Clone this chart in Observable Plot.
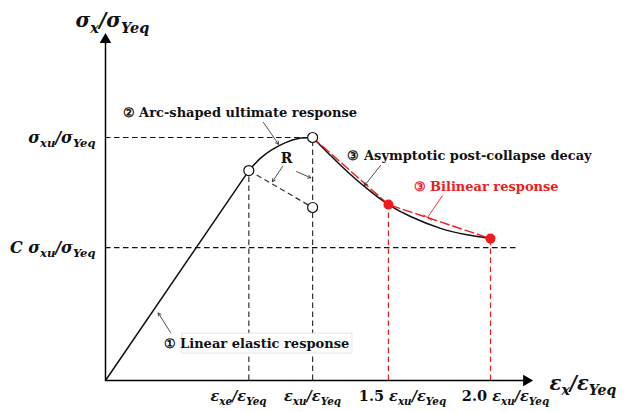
<!DOCTYPE html>
<html><head><meta charset="utf-8">
<script src="https://cdn.jsdelivr.net/npm/d3@7"></script>
<script src="https://cdn.jsdelivr.net/npm/@observablehq/plot@0.6"></script>
<style>body{margin:0;background:#fff}</style>
</head><body><div id="chart"></div>
<script>
// ---- schematic values (normalized strain εx/εYeq on x, stress σx/σYeq on y) ----
const strainTicks = [1.0, 1.445, 1.974, 2.686];          // εxe, εxu, 1.5εxu, 2.0εxu
const xTickLabels = ["ε_{xe}/ε_{Yeq}", "ε_{xu}/ε_{Yeq}", "1.5 ε_{xu}/ε_{Yeq}", "2.0 ε_{xu}/ε_{Yeq}"];
const xTickLabelX = [0.928, 1.444, 2.072, 2.791];
const stressLevels = [1.0, 0.547];                       // σxu, C·σxu
const yTickLabels = ["σ_{xu}/σ_{Yeq}", "C σ_{xu}/σ_{Yeq}"];

const elasticCurve = [{x: 0, y: 0}, {x: 1.0, y: 0.864}];
const arcCurve = [
  {x: 1.0, y: 0.864}, {x: 1.08, y: 0.914}, {x: 1.165, y: 0.951},
  {x: 1.256, y: 0.979}, {x: 1.347, y: 0.996}, {x: 1.445, y: 1.0}
];
const decayCurve = [
  {x: 1.445, y: 1.0}, {x: 1.57, y: 0.926}, {x: 1.709, y: 0.848}, {x: 1.849, y: 0.778},
  {x: 1.974, y: 0.724}, {x: 2.128, y: 0.675}, {x: 2.337, y: 0.626}, {x: 2.512, y: 0.601},
  {x: 2.686, y: 0.584}
];
const bilinearCurve = [{x: 1.445, y: 1.0}, {x: 1.974, y: 0.724}, {x: 2.686, y: 0.584}];
const arcCenter = {x: 1.445, y: 0.712};
const openPoints = [{x: 1.0, y: 0.864}, {x: 1.445, y: 1.0}, arcCenter];
const redPoints = [{x: 1.974, y: 0.724}, {x: 2.686, y: 0.584}];

// annotations (data units)
const blackNotes = [
  {x: 0.119, y: 1.103, t: "② Arc-shaped ultimate response"},
  {x: 1.688, y: 0.926, t: "③ Asymptotic post-collapse decay"},
  {x: 0.405, y: 0.152, t: "① Linear elastic response"}
];
const redNotes = [{x: 2.149, y: 0.798, t: "③ Bilinear response"}];
const leaders = [
  {x1: 1.102, y1: 1.062, x2: 1.207, y2: 0.972},
  {x1: 1.235, y1: 0.881, x2: 1.165, y2: 0.818},
  {x1: 1.333, y1: 0.860, x2: 1.432, y2: 0.834},
  {x1: 1.919, y1: 0.885, x2: 1.807, y2: 0.802},
  {x1: 0.453, y1: 0.198, x2: 0.368, y2: 0.278}
];
const redLeader = [{x1: 2.351, y1: 0.761, x2: 2.247, y2: 0.671}];
const redLeaderTick = [{x1: 2.218, y1: 0.682, x2: 2.277, y2: 0.659}];
const elasticBox = [{x1: 0.537, x2: 1.723, y1: 0.111, y2: 0.193}];

const red = "#ee1c1c";
const ink = "#111";
const dash = "5.5,3.5";
const SERIF = "'DejaVu Serif', 'Liberation Serif', serif";
const MATH = {fontFamily: SERIF, fontWeight: "bold", fontStyle: "italic", fill: ink};
const BOLD = {fontFamily: SERIF, fontWeight: "bold", fill: ink};

const plot = Plot.plot({
  width: 632, height: 412,
  marginLeft: 105, marginRight: 97, marginTop: 15.5, marginBottom: 32,
  x: {domain: [0, 3], axis: null},
  y: {domain: [0, 1.5], axis: null},
  style: {background: "white", overflow: "visible", fontFamily: SERIF},
  marks: [
    // reference dashed lines
    Plot.ruleY([stressLevels[0]], {x1: 0, x2: strainTicks[1], stroke: ink, strokeWidth: 1.2, strokeDasharray: dash}),
    Plot.ruleY([stressLevels[1]], {x1: 0, x2: 2.874, stroke: ink, strokeWidth: 1.2, strokeDasharray: dash}),
    Plot.ruleX([strainTicks[0]], {y1: 0, y2: 0.864, stroke: "#333", strokeWidth: 1.2, strokeDasharray: dash}),
    Plot.ruleX([strainTicks[1]], {y1: 0, y2: 1.0, stroke: "#333", strokeWidth: 1.2, strokeDasharray: dash}),
    Plot.ruleX([strainTicks[2]], {y1: 0, y2: 0.724, stroke: red, strokeWidth: 1.2, strokeDasharray: dash}),
    Plot.ruleX([strainTicks[3]], {y1: 0, y2: 0.584, stroke: red, strokeWidth: 1.2, strokeDasharray: dash}),
    Plot.link([{a: openPoints[0], b: arcCenter}], {x1: d => d.a.x, y1: d => d.a.y, x2: d => d.b.x, y2: d => d.b.y, stroke: "#333", strokeWidth: 1.2, strokeDasharray: dash}),
    // label box for elastic annotation
    Plot.rect(elasticBox, {x1: "x1", x2: "x2", y1: "y1", y2: "y2", fill: "white", stroke: "#ddd", strokeWidth: 0.8}),
    // axes
    Plot.link([{x1: 0, y1: 0, x2: 0, y2: 1.40}, {x1: 0, y1: 0, x2: 2.94, y2: 0}], {x1: "x1", y1: "y1", x2: "x2", y2: "y2", stroke: "#000", strokeWidth: 1.5}),
    Plot.dot([{x: 0, y: 1.403, r: 0}, {x: 2.937, y: 0, r: 90}], {x: "x", y: "y", rotate: "r", symbol: "triangle", r: 4.3, fill: "#000", stroke: "none"}),
    // response curves
    Plot.line(elasticCurve, {x: "x", y: "y", stroke: ink, strokeWidth: 1.5}),
    Plot.line(arcCurve, {x: "x", y: "y", stroke: ink, strokeWidth: 1.5, curve: "natural"}),
    Plot.line(decayCurve, {x: "x", y: "y", stroke: ink, strokeWidth: 1.5, curve: "natural"}),
    Plot.line(bilinearCurve, {x: "x", y: "y", stroke: red, strokeWidth: 1.4, strokeDasharray: "9,4"}),
    // points
    Plot.dot(openPoints, {x: "x", y: "y", r: 5, fill: "white", stroke: ink, strokeWidth: 1.2}),
    Plot.dot(redPoints, {x: "x", y: "y", r: 4.3, fill: red, stroke: red}),
    // leaders
    Plot.arrow(leaders, {x1: "x1", y1: "y1", x2: "x2", y2: "y2", stroke: "#222", strokeWidth: 0.8, headLength: 6}),
    Plot.link(redLeader, {x1: "x1", y1: "y1", x2: "x2", y2: "y2", stroke: red, strokeWidth: 0.9}),
    Plot.link(redLeaderTick, {x1: "x1", y1: "y1", x2: "x2", y2: "y2", stroke: red, strokeWidth: 0.9}),
    // annotation texts
    Plot.text(blackNotes, {x: "x", y: "y", text: "t", textAnchor: "start", fontSize: 13, ...BOLD}),
    Plot.text(redNotes, {x: "x", y: "y", text: "t", textAnchor: "start", fontSize: 13, ...BOLD, fill: red}),
    Plot.text(["R"], {x: 1.263, y: 0.914, text: d => d, fontSize: 14, ...BOLD}),
    // tick labels
    Plot.text(xTickLabels, {x: (d, i) => xTickLabelX[i], y: -0.066, text: d => d, fontSize: 14.5, ...MATH}),
    Plot.text(yTickLabels, {x: -0.07, y: (d, i) => stressLevels[i], text: d => d, textAnchor: "end", fontSize: 16, ...MATH}),
    // axis titles
    Plot.text(["ε_{x}/ε_{Yeq}"], {x: 3.098, y: -0.012, text: d => d, textAnchor: "start", fontSize: 19.5, ...MATH}),
    Plot.text(["σ_{x}/σ_{Yeq}"], {x: -0.209, y: 1.481, text: d => d, textAnchor: "start", fontSize: 20, ...MATH})
  ]
});

document.getElementById("chart").appendChild(plot);

// convert "_{...}" markup into real subscript tspans
const NS = "http://www.w3.org/2000/svg";
function richify(el) {
  const s = el.textContent;
  const fs = parseFloat(getComputedStyle(el).fontSize) || 14;
  const tokens = [];
  let i = 0;
  while (i < s.length) {
    if (s.startsWith("_{", i)) {
      const j = s.indexOf("}", i);
      tokens.push({t: s.slice(i + 2, j), sub: true});
      i = j + 1;
    } else {
      let j = s.indexOf("_{", i);
      if (j < 0) j = s.length;
      s.slice(i, j).split(/([\d.]+)/).filter(p => p.length).forEach(p =>
        tokens.push({t: p, sub: false, upright: /^[\d.]+$/.test(p)}));
      i = j;
    }
  }
  el.textContent = "";
  const shift = fs * 0.28;
  let down = false;
  for (const tk of tokens) {
    const ts = document.createElementNS(NS, "tspan");
    ts.textContent = tk.t;
    if (tk.sub && !down) { ts.setAttribute("dy", shift); down = true; }
    else if (!tk.sub && down) { ts.setAttribute("dy", -shift); down = false; }
    if (tk.sub) ts.setAttribute("font-size", (fs * 0.72).toFixed(1));
    if (tk.upright) ts.setAttribute("font-style", "normal");
    el.appendChild(ts);
  }
}
plot.querySelectorAll("text").forEach(el => { if (el.textContent.includes("_{")) richify(el); });
</script></body></html>
